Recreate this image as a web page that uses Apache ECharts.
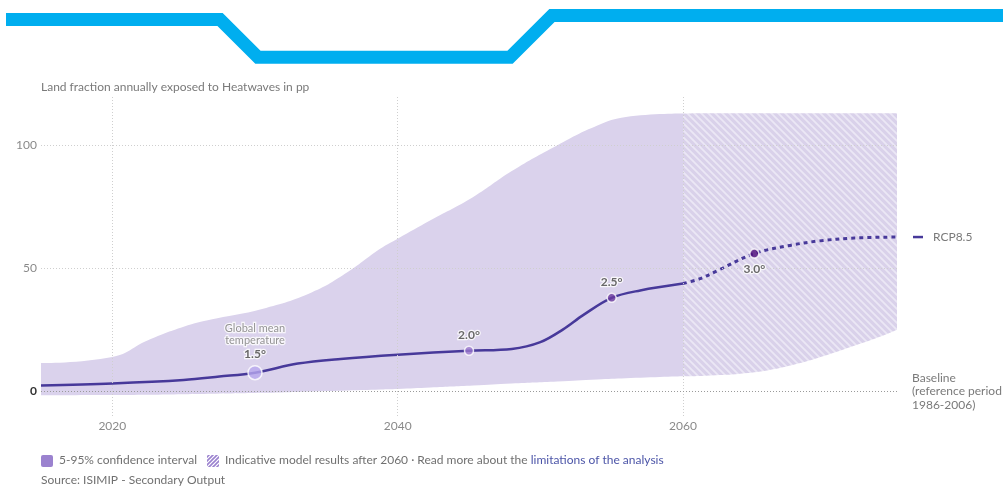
<!DOCTYPE html>
<html>
<head>
<meta charset="utf-8">
<script src="https://cdn.jsdelivr.net/npm/echarts@6/dist/echarts.min.js"></script>
<style>
html,body{margin:0;padding:0;background:#fff;}
#chart{width:1003px;height:488px;}
</style>
</head>
<body>
<div id="chart"></div>
<script>
// ---- data ----
const bandYears = [2015, 2020, 2022.5, 2025, 2027, 2030.5, 2034, 2036.5, 2038.8, 2040, 2042.3, 2045.3, 2048, 2051.2, 2054, 2056, 2060];
const bandUpper = [11.5, 14, 20.8, 26.3, 29.3, 33.5, 40.3, 48.5, 58, 62, 69.5, 79, 89.5, 100, 108, 111.5, 112.9];
const bandLower = [-1.6, -1.5, -1.4, -1.2, -1.0, -0.6, 0, 0.4, 0.8, 1.0, 1.6, 2.4, 3.2, 4.0, 4.8, 5.3, 6.1];

const hatchYears = [2060, 2062, 2064, 2066, 2068, 2070, 2072, 2074, 2075];
const hatchUpper = [112.9, 113, 113, 113, 113, 113, 113, 113, 113];
const hatchLower = [6.1, 6.5, 7.2, 8.6, 11.2, 14.6, 18.5, 22.6, 25];

const medianYears = [2015, 2020, 2025, 2027.5, 2030, 2033, 2036, 2040, 2045, 2048, 2050, 2051.6, 2053, 2055, 2057, 2060];
const medianValues = [2.4, 3.2, 4.6, 6.0, 7.6, 11.3, 13.2, 14.9, 16.5, 17.2, 20, 25.2, 31, 38, 41, 43.8];

const dottedYears = [2060, 2061.2, 2062.5, 2065, 2067.5, 2069.5, 2072, 2075];
const dottedValues = [43.8, 45.8, 49.3, 56, 59.3, 61.1, 62.3, 62.7];

const tempYears = [2030, 2045, 2055, 2065];
const tempValues = [7.6, 16.5, 38, 56];
const tempLabels = ['1.5°', '2.0°', '2.5°', '3.0°'];

const xTickLabels = [2020, 2040, 2060];
const yTickLabels = [0, 50, 100];

// ---- styling helpers ----
const FONT = 'Lato, "Noto Sans", sans-serif';
const LINE = '#47399a';
const BAND = '#dad2ec';

function makeHatch(base, stripe, size, w, down) {
  const c = document.createElement('canvas');
  c.width = size; c.height = size;
  const g = c.getContext('2d');
  g.fillStyle = base; g.fillRect(0, 0, size, size);
  g.strokeStyle = stripe; g.lineWidth = w;
  g.beginPath();
  if (down) {
    g.moveTo(-1, -1); g.lineTo(size + 1, size + 1);
    g.moveTo(size - 1, -1); g.lineTo(size + 1, 1);
    g.moveTo(-1, size - 1); g.lineTo(1, size + 1);
  } else {
    g.moveTo(-1, size + 1); g.lineTo(size + 1, -1);
    g.moveTo(-1, 1); g.lineTo(1, -1);
    g.moveTo(size - 1, size + 1); g.lineTo(size + 1, size - 1);
  }
  g.stroke();
  return c;
}
const hatchArea = makeHatch('#d9d1ea', '#ebe7f5', 7, 1.8, true);
const hatchLegend = makeHatch('#ffffff', '#9b82cf', 4, 1.6, false);

const zip = (a, b) => a.map((v, i) => [v, b[i]]);

const tempColors = ['#b6a8ee', '#9a78cd', '#6a3a9e', '#4b0a78'];
const tempSizes = [14, 9, 9, 9];
const tempData = tempYears.map((y, i) => ({
  value: [y, tempValues[i]],
  symbolSize: tempSizes[i],
  itemStyle: { color: tempColors[i], borderColor: '#fff', borderWidth: 1.5 },
  label: i === 0 ? {
    formatter: '{g|Global mean}\n{g|temperature}\n{t|' + tempLabels[i] + '}',
    position: 'top', distance: 3
  } : (i === 3 ? { formatter: '{t|' + tempLabels[i] + '}', position: 'bottom', distance: 3 }
                : { formatter: '{t|' + tempLabels[i] + '}', position: 'top', distance: 3 })
}));

const gridLine = { color: '#cfcfcf', type: [1, 2], width: 1 };
const SMOOTH = 0.35;

function areaSeries(name, xs, ys, fill, z) {
  return {
    type: 'line', name, data: zip(xs, ys), symbol: 'none', smooth: 0.45,
    lineStyle: { width: 0, opacity: 0 },
    areaStyle: { color: fill, opacity: 1, origin: 'start' },
    silent: true, z, emphasis: { disabled: true }
  };
}

const chart = echarts.init(document.getElementById('chart'), null, { renderer: 'canvas' });
chart.setOption({
  animation: false,
  backgroundColor: '#fff',
  textStyle: { fontFamily: FONT },
  grid: { left: 41, right: 106, top: 96, bottom: 72, containLabel: false },
  xAxis: {
    type: 'value', min: 2015, max: 2075, interval: 5,
    axisLine: { show: false }, axisTick: { show: false }, splitLine: { show: false },
    axisLabel: {
      color: '#8a8a8a', fontSize: 12, fontFamily: FONT, margin: 4,
      formatter: v => xTickLabels.indexOf(v) >= 0 ? String(v) : ''
    }
  },
  yAxis: {
    type: 'value', min: -10, max: 120, interval: 10,
    axisLine: { show: false }, axisTick: { show: false }, splitLine: { show: false },
    axisLabel: {
      margin: 4, fontSize: 12, fontFamily: FONT, color: '#8a8a8a',
      formatter: v => v === 0 ? '{b|0}' : (yTickLabels.indexOf(v) >= 0 ? String(v) : ''),
      rich: { b: { fontWeight: 'bold', color: '#333', fontSize: 12, fontFamily: FONT } }
    }
  },
  series: [
    areaSeries('bandUpper', bandYears, bandUpper, BAND, 1),
    areaSeries('hatchUpper', hatchYears, hatchUpper, { image: hatchArea, repeat: 'repeat' }, 1),
    areaSeries('bandLower', bandYears, bandLower, '#ffffff', 2),
    areaSeries('hatchLower', hatchYears, hatchLower, '#ffffff', 2),
    {
      type: 'line', name: 'median', data: zip(medianYears, medianValues),
      symbol: 'none', smooth: SMOOTH,
      lineStyle: { color: LINE, width: 2.5 }, z: 3,
      markLine: {
        silent: true, symbol: 'none', animation: false,
        label: { show: false },
        data: [
          { xAxis: 2020, lineStyle: gridLine },
          { xAxis: 2040, lineStyle: gridLine },
          { xAxis: 2060, lineStyle: gridLine },
          { yAxis: 50, lineStyle: gridLine },
          { yAxis: 100, lineStyle: gridLine },
          {
            yAxis: 0, lineStyle: { color: '#9a9a9a', type: [1, 2], width: 1.2 },
            label: {
              show: true, position: 'end', distance: 15,
              formatter: 'Baseline\n(reference period\n1986-2006)',
              color: '#7a7a7a', fontSize: 12, lineHeight: 13.5, fontFamily: FONT, align: 'left'
            }
          }
        ]
      }
    },
    {
      type: 'line', name: 'RCP8.5', data: zip(dottedYears, dottedValues),
      symbol: 'none', smooth: SMOOTH,
      lineStyle: { color: LINE, width: 3, type: [4, 4] }, z: 3,
      endLabel: {
        show: true, distance: 16,
        formatter: '{d|}{t|RCP8.5}',
        rich: {
          d: { width: 10, height: 2.5, backgroundColor: LINE },
          t: { color: '#7a7a7a', fontSize: 12, fontFamily: FONT, padding: [0, 0, 0, 10] }
        }
      }
    },
    {
      type: 'scatter', name: 'temps', data: tempData, z: 5,
      label: {
        show: true,
        rich: {
          g: { color: '#7a7a7a', fontSize: 11, fontFamily: FONT, lineHeight: 12, textBorderColor: '#fff', textBorderWidth: 2.5, align: 'center' },
          t: { color: '#444', fontSize: 12, fontWeight: 'bold', fontFamily: FONT, lineHeight: 15, textBorderColor: '#fff', textBorderWidth: 2.5, align: 'center' }
        }
      }
    }
  ],
  graphic: [
    {
      type: 'polyline', silent: true, z: 10,
      shape: { points: [[6, 19.5], [220, 19.5], [258, 57.3], [510, 57.3], [552, 15.5], [1010, 15.5]] },
      style: { stroke: '#00aeef', lineWidth: 13, fill: null, lineJoin: 'miter', lineCap: 'butt' }
    },
    {
      type: 'text', left: 41, top: 81, silent: true,
      style: { text: 'Land fraction annually exposed to Heatwaves in pp', fill: '#7a7a7a', fontSize: 12, fontFamily: FONT }
    },
    {
      type: 'rect', silent: true, shape: { x: 41, y: 455, width: 12, height: 12, r: 2 },
      style: { fill: '#9b82cf' }
    },
    {
      type: 'text', left: 59, top: 454, silent: true,
      style: { text: '5-95% confidence interval', fill: '#707070', fontSize: 12, fontFamily: FONT }
    },
    {
      type: 'rect', silent: true, shape: { x: 207, y: 455, width: 12, height: 12, r: 1 },
      style: { fill: { image: hatchLegend, repeat: 'repeat' } }
    },
    {
      type: 'text', left: 225, top: 454, silent: true,
      style: {
        text: '{a|Indicative model results after 2060 · Read more about the }{l|limitations of the analysis}',
        rich: {
          a: { fill: '#707070', color: '#707070', fontSize: 12, fontFamily: FONT },
          l: { fill: '#4c55a8', color: '#4c55a8', fontSize: 12, fontFamily: FONT }
        }
      }
    },
    {
      type: 'text', left: 41, top: 474, silent: true,
      style: { text: 'Source: ISIMIP - Secondary Output', fill: '#707070', fontSize: 12, fontFamily: FONT }
    }
  ]
});
</script>
</body>
</html>
